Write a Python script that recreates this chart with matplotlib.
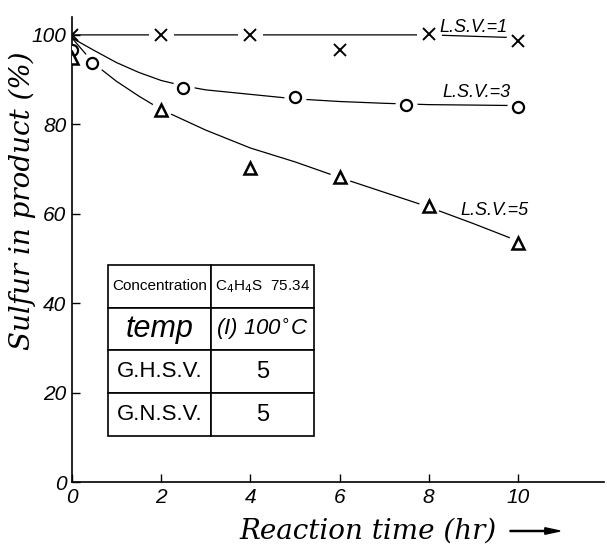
import matplotlib
matplotlib.use("Agg")
import matplotlib.pyplot as plt

# measured points (reaction time hr, sulfur %)
t_lsv1 = [0, 2, 4, 6, 8, 10]
s_lsv1 = [100, 100, 100, 96.7, 100.3, 98.6]
t_lsv3 = [0, 0.45, 2.5, 5, 7.5, 10]
s_lsv3 = [96.6, 93.7, 88.1, 86.1, 84.3, 83.9]
t_lsv5 = [0, 2, 4, 6, 8, 10]
s_lsv5 = [94.9, 83.2, 70.3, 68.3, 61.7, 53.5]

# hand drawn curves
ct_lsv1 = [0, 2, 4, 6, 8, 9.9]
cs_lsv1 = [100, 100, 100, 100, 100, 99.4]
ct_lsv3 = [0, 0.5, 1, 1.5, 2, 2.5, 3, 4, 5, 6, 7, 8, 9, 9.9]
cs_lsv3 = [99.3, 96.5, 93.8, 91.6, 89.8, 88.6, 87.7, 86.7, 85.7, 85.1, 84.7, 84.4, 84.3, 84.2]
ct_lsv5 = [0, 0.5, 1, 1.5, 2, 3, 4, 5, 6, 7, 8, 9, 9.9]
cs_lsv5 = [99.3, 93.5, 89.6, 86.3, 83.3, 78.7, 74.7, 71.6, 68.1, 64.8, 61.5, 57.8, 54.3]

xticks = [0, 2, 4, 6, 8, 10]
yticks = [0, 20, 40, 60, 80, 100]

table_rows = [["Concentration", "C$_4$H$_4$S  75.34"],
              ["temp", "(I) 100$^{\\circ}$C"],
              ["G.H.S.V.", "5"],
              ["G.N.S.V.", "5"]]

hand = ["Liberation Sans", "DejaVu Sans"]

fig = plt.figure(figsize=(6.07, 5.44), dpi=100)
ax = fig.add_axes([72/607, 62/544, 532/607, 465/544])

# curves
ax.plot(ct_lsv1, cs_lsv1, color="black", lw=0.9, zorder=2)
ax.plot(ct_lsv3, cs_lsv3, color="black", lw=0.9, zorder=2)
ax.plot(ct_lsv5, cs_lsv5, color="black", lw=0.9, zorder=2)

# white gaps round the points
ax.plot(t_lsv1, s_lsv1, ls="none", marker="o", ms=17, color="white", markevery=slice(1, None), zorder=2.1)
ax.plot(t_lsv3, s_lsv3, ls="none", marker="o", ms=15, color="white", markevery=slice(1, None), zorder=2.1)
ax.plot(t_lsv5, s_lsv5, ls="none", marker="o", ms=14, color="white", markevery=slice(1, None), zorder=2.1)

ax.plot(t_lsv1, s_lsv1, ls="none", marker="x", ms=8, mew=1.4, color="black", zorder=3)
ax.plot(t_lsv3, s_lsv3, ls="none", marker="o", ms=8, mew=1.6, mfc="white", mec="black", zorder=3)
ax.plot(t_lsv5, s_lsv5, ls="none", marker="^", ms=8, mew=1.8, mfc="white", mec="black", zorder=3)

ax.text(8.25, 100.6, "L.S.V.=1", fontsize=13, style="italic", family=hand, va="baseline")
ax.text(8.3, 86.0, "L.S.V.=3", fontsize=13, style="italic", family=hand, va="baseline")
ax.text(8.7, 59.8, "L.S.V.=5", fontsize=13, style="italic", family=hand, va="baseline")

ax.set_xlim(0, 11.93)
ax.set_ylim(0, 104)
ax.spines["top"].set_visible(False)
ax.spines["right"].set_visible(False)
ax.spines["left"].set_linewidth(1.2)
ax.spines["bottom"].set_linewidth(1.2)
ax.set_xticks(xticks)
ax.set_yticks(yticks)
ax.tick_params(direction="in", length=6, width=1, pad=4)
for lab in ax.get_xticklabels() + ax.get_yticklabels():
    lab.set_family(hand)
    lab.set_style("italic")
    lab.set_fontsize(15)

# info table
tab = ax.table(cellText=table_rows, cellLoc="center", bbox=[0.0677, 0.0989, 0.387, 0.368])
tab.auto_set_font_size(False)
sizes = [[11, 11], [22, 16], [16, 17], [16, 17]]
for (r, c), cell in tab.get_celld().items():
    cell.set_linewidth(1.2)
    cell.get_text().set_fontsize(sizes[r][c])
    cell.get_text().set_family(hand)
    if r == 1:
        cell.get_text().set_style("italic")

fig.text(22/607, 1 - 201/544, "Sulfur in product (%)", rotation=90, ha="center", va="center",
         fontsize=20, style="italic", family="DejaVu Serif")
fig.text(368/607, 1 - 531/544, "Reaction time (hr)", ha="center", va="center",
         fontsize=20, style="italic", family="DejaVu Serif")
fig.patches.append(matplotlib.patches.FancyArrow(510/607, 1 - 531/544, 50/607, 0, width=0.002,
                                                 head_width=0.012, head_length=0.025, length_includes_head=True,
                                                 color="black", transform=fig.transFigure, figure=fig))

fig.savefig("out.png", dpi=100)
